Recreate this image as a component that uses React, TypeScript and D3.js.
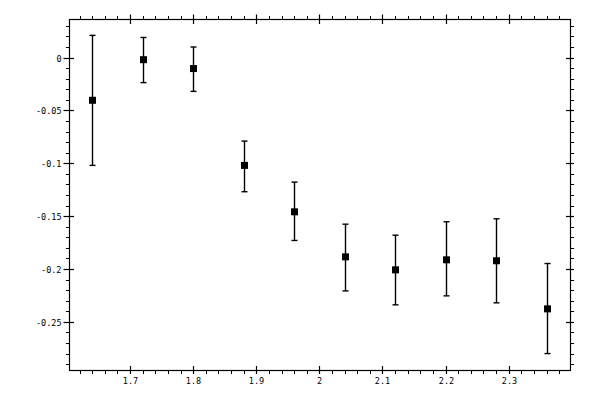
import React from 'react';
import * as d3 from 'd3';

// Data
const xValues = [1.64, 1.72, 1.8, 1.88, 1.96, 2.04, 2.12, 2.2, 2.28, 2.36];
const yValues = [-0.0404, -0.002, -0.0104, -0.102, -0.1459, -0.1885, -0.2008, -0.1913, -0.1922, -0.2377];
const yUpper = [0.021, 0.019, 0.010, -0.079, -0.1178, -0.1576, -0.168, -0.1553, -0.1525, -0.1948];
const yLower = [-0.102, -0.0237, -0.032, -0.1269, -0.173, -0.2207, -0.2339, -0.2254, -0.232, -0.280];

const xMajorTicks = [1.7, 1.8, 1.9, 2.0, 2.1, 2.2, 2.3];
const yMajorTicks = [0, -0.05, -0.1, -0.15, -0.2, -0.25];

const WIDTH = 600;
const HEIGHT = 400;
const left = 69.5;
const right = 570.5;
const top = 19.5;
const bottom = 370.5;

const App: React.FC = () => {
  const x = d3.scaleLinear().domain([1.604, 2.398]).range([left, right]);
  const y = d3.scaleLinear().domain([-0.296, 0.036]).range([bottom, top]);

  // minor ticks every 0.02 on x, 0.01 on y
  const xMinor = d3.range(81, 120).map((i) => i * 0.02).filter((v) => v > 1.604 && v < 2.398);
  const yMinor = d3.range(-29, 4).map((i) => i * 0.01);

  const isMajor = (v: number, step: number) => Math.abs(v / step - Math.round(v / step)) < 1e-6;

  const font = '"DejaVu Sans Mono", monospace';
  const half = 3.5; // marker half size
  const cap = 3;

  return (
    <svg
      width={WIDTH}
      height={HEIGHT}
      style={{ position: 'absolute', left: 0, top: 0, background: '#fff' }}
    >
      <rect x={0} y={0} width={WIDTH} height={HEIGHT} fill="#fff" />
      {/* frame */}
      <rect x={left} y={top} width={right - left} height={bottom - top} fill="none" stroke="#000" strokeWidth={1.2} />

      {/* x ticks top and bottom */}
      {xMinor.filter((v) => !isMajor(v, 0.1)).map((v, i) => {
        const px = Math.round(x(v)) + 0.5;
        return (
          <g key={`xm${i}`} stroke="#000" strokeWidth={1}>
            <line x1={px} x2={px} y1={bottom} y2={bottom + 3.5} />
            <line x1={px} x2={px} y1={top} y2={top - 3.5} />
          </g>
        );
      })}
      {xMajorTicks.map((v, i) => {
        const px = Math.round(x(v)) + 0.5;
        return (
          <g key={`xM${i}`}>
            <line x1={px} x2={px} y1={bottom - 4.5} y2={bottom + 3.5} stroke="#000" strokeWidth={1.2} />
            <line x1={px} x2={px} y1={top + 4.5} y2={top - 5} stroke="#000" strokeWidth={1.2} />
            <text x={px} y={bottom + 13} textAnchor="middle" fontFamily={font} fontSize={8.5} fill="#000">
              {String(Math.round(v * 10) / 10)}
            </text>
          </g>
        );
      })}

      {/* y ticks left and right */}
      {yMinor.filter((v) => !isMajor(v, 0.05)).map((v, i) => {
        const py = Math.round(y(v)) + 0.5;
        return (
          <g key={`ym${i}`} stroke="#000" strokeWidth={1}>
            <line x1={left} x2={left - 3.5} y1={py} y2={py} />
            <line x1={right} x2={right + 3.5} y1={py} y2={py} />
          </g>
        );
      })}
      {yMajorTicks.map((v, i) => {
        const py = Math.round(y(v)) + 0.5;
        return (
          <g key={`yM${i}`}>
            <line x1={left - 6} x2={left + 4.5} y1={py} y2={py} stroke="#000" strokeWidth={1.2} />
            <line x1={right - 4.5} x2={right + 3.5} y1={py} y2={py} stroke="#000" strokeWidth={1.2} />
            <text x={left - 8} y={py + 3} textAnchor="end" fontFamily={font} fontSize={8.5} fill="#000">
              {String(Math.round(v * 100) / 100)}
            </text>
          </g>
        );
      })}

      {/* error bars and markers */}
      {xValues.map((xv, i) => {
        const cx = Math.round(x(xv)) + 0.5;
        const yu = y(yUpper[i]);
        const yl = y(yLower[i]);
        const yc = y(yValues[i]);
        return (
          <g key={`p${i}`}>
            <line x1={cx} x2={cx} y1={yu} y2={yl} stroke="#000" strokeWidth={1.4} />
            <line x1={cx - cap} x2={cx + cap} y1={yu} y2={yu} stroke="#000" strokeWidth={1.4} />
            <line x1={cx - cap} x2={cx + cap} y1={yl} y2={yl} stroke="#000" strokeWidth={1.4} />
            <rect x={cx - half} y={yc - half} width={half * 2} height={half * 2} fill="#000" />
          </g>
        );
      })}
    </svg>
  );
};

export default App;
